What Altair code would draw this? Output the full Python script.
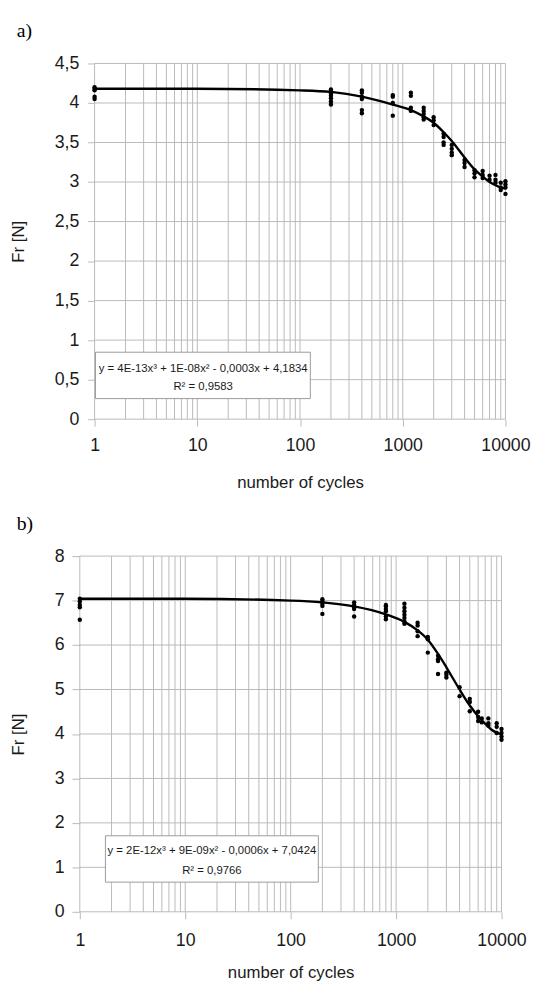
import altair as alt
import pandas as pd

# ---------------- data : panel a ----------------
A_X = [1, 200, 400, 800, 1200, 1600, 2000, 2500, 3000, 4000, 5000, 6000, 7000, 8000, 9000, 10000]
A_Y = [
    [4.20, 4.18, 4.16, 4.08, 4.05],
    [4.17, 4.15, 4.12, 4.09, 4.06, 4.02, 3.98],
    [4.16, 4.13, 4.08, 4.05, 3.91, 3.87],
    [4.10, 4.08, 4.00, 3.84],
    [4.13, 4.09, 3.94, 3.90],
    [3.94, 3.90, 3.86, 3.82, 3.79],
    [3.82, 3.78, 3.72],
    [3.61, 3.57, 3.50, 3.47],
    [3.47, 3.42, 3.37, 3.34],
    [3.28, 3.24, 3.19],
    [3.15, 3.11, 3.06],
    [3.14, 3.09, 3.05],
    [3.08, 3.03],
    [3.09, 3.03, 2.99],
    [2.99, 2.93, 2.90],
    [3.01, 2.97, 2.93, 2.85],
]
A_CURVE_X = [1, 10, 100, 200, 400, 800, 1200, 1600, 2000, 2500, 3000, 4000, 5000, 6000, 7000, 8000, 9000, 10000]
A_CURVE_Y = [4.18, 4.18, 4.16, 4.14, 4.08, 3.98, 3.91, 3.83, 3.75, 3.63, 3.52, 3.31, 3.16, 3.07, 3.00, 2.96, 2.93, 2.92]
A_GRID_Y = [0, 0.5, 1, 1.5, 2, 2.5, 3, 3.5, 4, 4.5]
A_EQ = ["y = 4E-13x³ + 1E-08x² - 0,0003x + 4,1834", "R² = 0,9583"]

# ---------------- data : panel b ----------------
B_X = [1, 200, 400, 800, 1200, 1600, 2000, 2500, 3000, 4000, 5000, 6000, 6500, 7500, 9000, 10000]
B_Y = [
    [7.04, 6.98, 6.90, 6.85, 6.57],
    [7.03, 6.98, 6.93, 6.88, 6.70],
    [6.96, 6.90, 6.85, 6.81, 6.64],
    [6.90, 6.87, 6.81, 6.76, 6.64, 6.58],
    [6.93, 6.84, 6.76, 6.68, 6.61, 6.53, 6.48],
    [6.50, 6.44, 6.31, 6.20],
    [6.18, 6.13, 5.83],
    [5.76, 5.68, 5.64, 5.35],
    [5.38, 5.33, 5.27],
    [5.05, 4.85],
    [4.79, 4.72, 4.51],
    [4.50, 4.38, 4.29],
    [4.35, 4.26],
    [4.35, 4.24, 4.19],
    [4.24, 4.16, 4.02],
    [4.11, 4.02, 3.94, 3.87],
]
B_CURVE_X = [1, 10, 100, 200, 400, 800, 1200, 1600, 2000, 2500, 3000, 4000, 5000, 6000, 7000, 8000, 9000, 10000]
B_CURVE_Y = [7.04, 7.04, 7.00, 6.96, 6.87, 6.69, 6.52, 6.33, 6.12, 5.80, 5.50, 5.00, 4.64, 4.40, 4.23, 4.10, 4.03, 3.99]
B_GRID_Y = [0, 1, 2, 3, 4, 5, 6, 7, 8]
B_EQ = ["y = 2E-12x³ + 9E-09x² - 0,0006x + 7,0424", "R² = 0,9766"]

# ---------------- shared ----------------
GRID_X = [1, 2, 3, 4, 5, 6, 7, 8, 9,
          10, 20, 30, 40, 50, 60, 70, 80, 90,
          100, 200, 300, 400, 500, 600, 700, 800, 900,
          1000, 2000, 3000, 4000, 5000, 6000, 7000, 8000, 9000,
          10000]
X_LABELS = [1, 10, 100, 1000, 10000]

FONT = "Liberation Sans"
GRID_COLOR = "#bababa"
TXT = "#1a1a1a"


def points_df(xs, ys):
    rows = []
    for x, vals in zip(xs, ys):
        for v in vals:
            rows.append({"x": x, "y": v})
    return pd.DataFrame(rows)


def panel(label, xs, ys, cx, cy, grid_y, ymax, eq, box, eq_x, eq_y,
          width, height, x_range, y_offset, y_tick, y_pad, title_x, x_lab_pad, x_title_pad):
    xscale = alt.Scale(type="log", domain=[1, 10000], nice=False, range=x_range)
    yscale = alt.Scale(domain=[0, ymax], nice=False, zero=True)

    xaxis = alt.Axis(values=X_LABELS, format="d", grid=False, domain=False,
                     tickSize=7, tickColor=GRID_COLOR, labelPadding=x_lab_pad,
                     labelFlush=False, labelOverlap=False, labelFont=FONT,
                     labelFontSize=18, labelColor=TXT,
                     title="number of cycles", titleFont=FONT, titleFontSize=17,
                     titleFontWeight="normal", titleColor=TXT, titlePadding=x_title_pad)
    yaxis = alt.Axis(values=grid_y, grid=False, domain=False, offset=y_offset,
                     tickSize=y_tick, tickColor=GRID_COLOR, labelPadding=y_pad,
                     labelFlush=False, labelOverlap=False, labelFont=FONT,
                     labelFontSize=18, labelColor=TXT,
                     labelExpr="replace(format(datum.value, '~g'), '.', ',')",
                     title="Fr [N]", titleFont=FONT, titleFontSize=17,
                     titleFontWeight="normal", titleColor=TXT,
                     titleAngle=270, titleBaseline="bottom", titleAlign="center",
                     titleX=title_x, titleY=height / 2)

    base_x = alt.X("x:Q", scale=xscale, axis=xaxis)

    vgrid = alt.Chart(pd.DataFrame({"x": GRID_X})).mark_rule(
        color=GRID_COLOR, strokeWidth=1).encode(
        x=base_x, y=alt.datum(ymax, scale=yscale, axis=yaxis), y2=alt.datum(0))

    hgrid = alt.Chart(pd.DataFrame({"y": grid_y})).mark_rule(
        color=GRID_COLOR, strokeWidth=1).encode(
        y=alt.Y("y:Q", scale=yscale, axis=yaxis), x=alt.datum(1), x2=alt.datum(10000))

    box_layer = alt.Chart(pd.DataFrame({"k": [0]})).mark_rect(
        fill="white", stroke="#9a9a9a", strokeWidth=1).encode(
        x=alt.datum(box[0]), x2=alt.datum(box[1]),
        y=alt.datum(box[2]), y2=alt.datum(box[3]))

    eq_layer = alt.Chart(pd.DataFrame({"t": eq, "ty": eq_y})).mark_text(
        font=FONT, fontSize=11.5, color=TXT, align="center", baseline="middle").encode(
        x=alt.datum(eq_x), y="ty:Q", text="t:N")

    pts = alt.Chart(points_df(xs, ys)).mark_circle(
        size=20, color="black", opacity=1).encode(x="x:Q", y="y:Q")

    curve = alt.Chart(pd.DataFrame({"x": cx, "y": cy})).mark_line(
        color="black", strokeWidth=2.4, interpolate="monotone").encode(x="x:Q", y="y:Q")

    return alt.layer(vgrid, hgrid, box_layer, eq_layer, pts, curve).properties(
        width=width, height=height,
        title=alt.TitleParams(label, anchor="start", frame="group", dx=-64, offset=14,
                              font="Liberation Serif", fontSize=20,
                              fontWeight="normal", color="black"))


pa = panel("a)", A_X, A_Y, A_CURVE_X, A_CURVE_Y, A_GRID_Y, 4.5, A_EQ,
           (1.02, 126, 0.26, 0.847), 11.4, [0.63, 0.41],
           width=432, height=361, x_range=[15, 432], y_offset=-15,
           y_tick=7, y_pad=9, title_x=-68, x_lab_pad=11, x_title_pad=20)

pb = panel("b)", B_X, B_Y, B_CURVE_X, B_CURVE_Y, B_GRID_Y, 8, B_EQ,
           (1.75, 183, 0.667, 1.71), 17.9, [1.36, 0.91],
           width=428, height=361, x_range=[0, 428], y_offset=0,
           y_tick=8, y_pad=8, title_x=-53, x_lab_pad=13, x_title_pad=16)

chart = alt.vconcat(pa, pb, spacing=24).properties(
    padding={"left": 10, "top": 14, "right": 5, "bottom": 5},
    background="white",
).configure_view(stroke=None)

chart.save("out.html", embed_options={"renderer": "svg", "actions": False})
